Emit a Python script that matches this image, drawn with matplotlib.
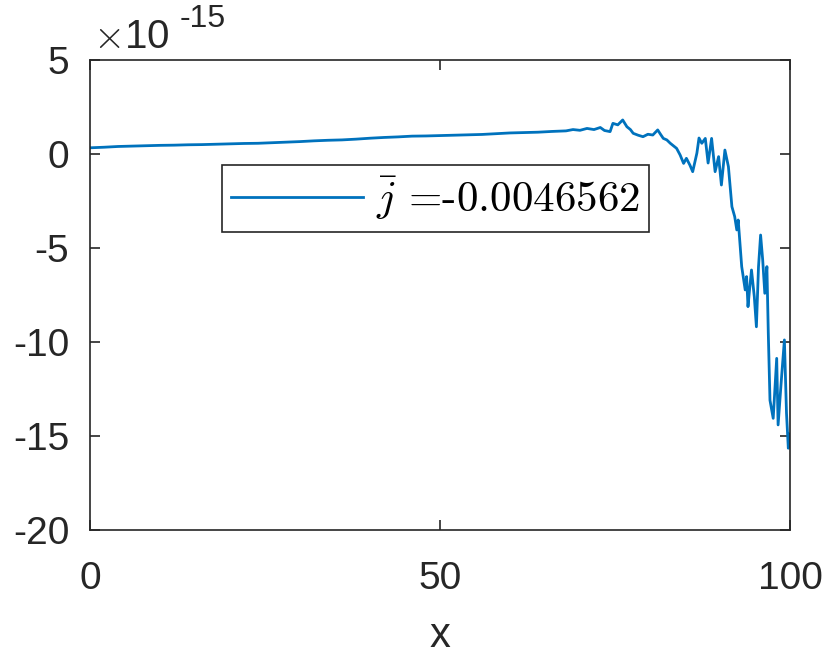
import matplotlib
matplotlib.use("Agg")
import matplotlib.pyplot as plt

plt.rcParams['mathtext.fontset'] = 'cm'
plt.rcParams['font.family'] = ['Liberation Sans', 'DejaVu Sans']

# data (x, and y in units of 1e-15)
x_vals = [0, 2, 4, 6, 8, 10, 12, 14, 16, 18, 20, 22, 24, 26, 28, 30, 32, 34, 36, 38,
          40, 42, 44, 46, 48, 50, 52, 54, 56, 58, 60, 62, 64, 66, 68, 69, 70, 71, 72,
          72.9, 73.5, 74.3, 74.7, 75.4, 76.1, 76.7, 77.2, 77.6, 78.3, 79.0, 79.7, 80.4,
          81.1, 81.5, 81.9, 82.4, 82.9, 83.3, 83.8, 84.3, 84.8, 85.2, 85.7, 86.1, 86.7,
          87.0, 87.4, 87.9, 88.3, 88.8, 89.3, 89.8, 90.2, 90.7, 91.2, 91.7, 92.1, 92.4,
          92.6, 93.1, 93.6, 93.8, 94.0, 94.2, 94.5, 94.9, 95.2, 95.5, 95.8, 96.1, 96.4,
          96.7, 96.9, 97.14, 97.6, 98.1, 98.3, 98.8, 99.2, 99.5, 99.76, 100]
y_vals = [0.33, 0.36, 0.40, 0.42, 0.44, 0.46, 0.47, 0.49, 0.50, 0.52, 0.54, 0.56, 0.57,
          0.60, 0.63, 0.66, 0.70, 0.73, 0.75, 0.79, 0.84, 0.88, 0.91, 0.95, 0.96, 0.98,
          1.00, 1.02, 1.04, 1.08, 1.12, 1.14, 1.16, 1.20, 1.23, 1.30, 1.26, 1.36, 1.30,
          1.41, 1.25, 1.19, 1.63, 1.55, 1.81, 1.45, 1.30, 1.10, 1.00, 0.92, 1.05, 1.01,
          1.28, 1.05, 0.83, 0.75, 0.57, 0.45, 0.30, -0.05, -0.50, -0.23, -0.59, -0.94,
          0.05, 0.85, 0.57, 0.83, -0.48, 0.83, -0.94, -0.14, -1.65, 0.21, -0.67, -2.80,
          -3.33, -4.04, -3.51, -5.99, -7.23, -6.52, -8.12, -7.30, -6.17, -7.59, -9.19,
          -6.00, -4.31, -5.64, -7.41, -5.99, -9.54, -13.1, -14.06, -10.87, -14.41,
          -11.84, -9.89, -13.79, -15.65, -14.9]

legend_label = r'$\bar{j}$ =-0.0046562'
xticks = [0, 50, 100]
yticks = [-20, -15, -10, -5, 0, 5]
ytick_labels = ['-20', '-15', '-10', '-5', '0', '5']

W, H = 830, 659
fig = plt.figure(figsize=(W / 100, H / 100), dpi=100)
ax = fig.add_axes([90 / W, 1 - 530 / H, 700 / W, 470 / H])

ax.plot(x_vals, y_vals, color='#0072BD', lw=2.0, label=legend_label)
ax.set_xlim(0, 100)
ax.set_ylim(-20, 5)
ax.set_xticks(xticks)
ax.set_xticklabels([str(t) for t in xticks])
ax.set_yticks(yticks)
ax.set_yticklabels(ytick_labels)

for s in ax.spines.values():
    s.set_color('#262626')
    s.set_linewidth(1.2)
ax.tick_params(direction='in', length=7, width=1.2, colors='#262626',
               labelcolor='#262626', labelsize=28, top=True, right=True)
ax.tick_params(axis='x', pad=22)
ax.tick_params(axis='y', pad=15)
ax.set_xlabel('x', fontsize=30, color='#262626', labelpad=14)

fig.text(93 / W, 1 - 48 / H, r'$\times$10', fontsize=29, color='#262626',
         ha='left', va='baseline', family=['Liberation Sans', 'DejaVu Sans'])
fig.text(180 / W, 1 - 27 / H, '-15', fontsize=23, color='#262626',
         ha='left', va='baseline')

leg = ax.legend(loc='upper left', bbox_to_anchor=(222 / W, 1 - 165 / H),
                bbox_transform=fig.transFigure, borderaxespad=0,
                fancybox=False, framealpha=1, edgecolor='#262626',
                prop={'family': 'cmr10', 'size': 31}, handlelength=3.05,
                handletextpad=0.3, borderpad=0.22)
leg.get_frame().set_linewidth(1.2)

fig.savefig('out.png', dpi=100)
